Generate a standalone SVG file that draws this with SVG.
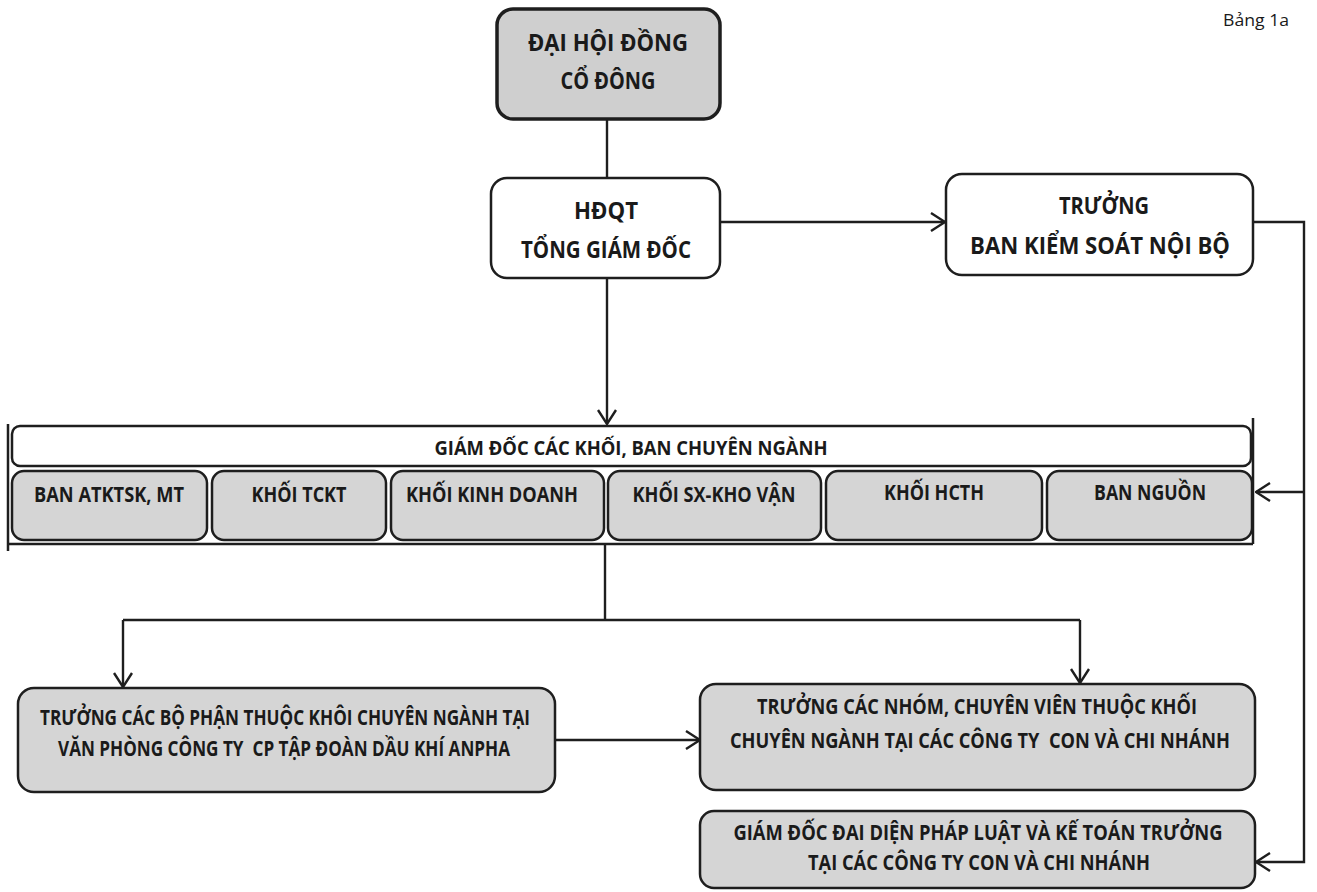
<svg xmlns="http://www.w3.org/2000/svg" width="1317" height="892" viewBox="0 0 1317 892">
<style>
.t{font-family:"Open Sans","Liberation Sans",Arial,sans-serif;font-weight:bold;fill:#1a1a1a;text-anchor:middle}
.g{fill:#d5d5d5;stroke:#1e1e1e;stroke-width:2.5}
.w{fill:#ffffff;stroke:#1e1e1e;stroke-width:2.5}
.c{fill:none;stroke:#1e1e1e;stroke-width:2.4}
</style>
<defs>
<marker id="arr" viewBox="0 0 16 20" refX="15" refY="10" markerWidth="16" markerHeight="20" orient="auto" markerUnits="userSpaceOnUse">
<path d="M1,1 L15,10 L1,19" fill="none" stroke="#1e1e1e" stroke-width="2.4"/>
</marker>
</defs>
<rect width="1317" height="892" fill="#ffffff"/>
<text x="1256" y="26" style="font-family:'Open Sans','Liberation Sans',sans-serif;font-size:16px;fill:#1a1a1a;text-anchor:middle" textLength="66" lengthAdjust="spacingAndGlyphs">Bảng 1a</text>

<g id="connectors">
<path class="c" d="M607,120 L607,178"/>
<path class="c" d="M720,222 L945,222" marker-end="url(#arr)"/>
<path class="c" d="M607,278 L607,424" marker-end="url(#arr)"/>
<path class="c" d="M1253,222 L1304,222 L1304,862 L1256,862" marker-end="url(#arr)"/>
<path class="c" d="M1304,492 L1256,492" marker-end="url(#arr)"/>
<path class="c" d="M605,544 L605,620"/>
<path class="c" d="M123,620 L1080,620"/>
<path class="c" d="M123,620 L123,687" marker-end="url(#arr)"/>
<path class="c" d="M1080,620 L1080,683" marker-end="url(#arr)"/>
<path class="c" d="M555,740 L700,740" marker-end="url(#arr)"/>
</g>

<g id="dhdcd">
<rect class="g" x="497" y="9" width="223" height="110" rx="16" style="stroke-width:3.5;fill:#cfcfcf"/>
<text class="t" x="608" y="51" font-size="24" textLength="160" lengthAdjust="spacingAndGlyphs">ĐẠI HỘI ĐỒNG</text>
<text class="t" x="608" y="89" font-size="24" textLength="95" lengthAdjust="spacingAndGlyphs">CỔ ĐÔNG</text>
</g>

<g id="hdqt">
<rect class="w" x="491" y="178" width="229" height="100" rx="16"/>
<text class="t" x="606" y="219" font-size="23" textLength="64" lengthAdjust="spacingAndGlyphs">HĐQT</text>
<text class="t" x="606" y="258" font-size="23" textLength="170" lengthAdjust="spacingAndGlyphs">TỔNG GIÁM ĐỐC</text>
</g>

<g id="bks">
<rect class="w" x="946" y="174" width="307" height="101" rx="16"/>
<text class="t" x="1104" y="214" font-size="23" textLength="90" lengthAdjust="spacingAndGlyphs">TRƯỞNG</text>
<text class="t" x="1100" y="254" font-size="23" textLength="260" lengthAdjust="spacingAndGlyphs">BAN KIỂM SOÁT NỘI BỘ</text>
</g>

<g id="band">
<path class="c" d="M8,424 L8,551 M1253,418 L1253,544 M8,544 L1253,544" style="stroke-width:2.5"/>
<rect class="w" x="12" y="426" width="1239" height="40" rx="8"/>
<text class="t" x="631" y="455" font-size="20" textLength="393" lengthAdjust="spacingAndGlyphs">GIÁM ĐỐC CÁC KHỐI, BAN CHUYÊN NGÀNH</text>
</g>

<g id="ban-atktsk">
<rect class="g" x="12" y="471" width="195" height="69" rx="12"/>
<text class="t" x="109" y="502" font-size="22" textLength="150" lengthAdjust="spacingAndGlyphs">BAN ATKTSK, MT</text>
</g>
<g id="khoi-tckt">
<rect class="g" x="212" y="471" width="174" height="69" rx="12"/>
<text class="t" x="299" y="502" font-size="22" textLength="95" lengthAdjust="spacingAndGlyphs">KHỐI TCKT</text>
</g>
<g id="khoi-kinh-doanh">
<rect class="g" x="391" y="471" width="213" height="69" rx="12"/>
<text class="t" x="492" y="502" font-size="22" textLength="172" lengthAdjust="spacingAndGlyphs">KHỐI KINH DOANH</text>
</g>
<g id="khoi-sx">
<rect class="g" x="608" y="471" width="213" height="69" rx="12"/>
<text class="t" x="714" y="502" font-size="22" textLength="163" lengthAdjust="spacingAndGlyphs">KHỐI SX-KHO VẬN</text>
</g>
<g id="khoi-hcth">
<rect class="g" x="826" y="471" width="216" height="69" rx="12"/>
<text class="t" x="934" y="500" font-size="22" textLength="100" lengthAdjust="spacingAndGlyphs">KHỐI HCTH</text>
</g>
<g id="ban-nguon">
<rect class="g" x="1047" y="471" width="205" height="69" rx="12"/>
<text class="t" x="1150" y="500" font-size="22" textLength="112" lengthAdjust="spacingAndGlyphs">BAN NGUỒN</text>
</g>

<g id="truong-bo-phan">
<rect class="g" x="18" y="688" width="537" height="104" rx="16"/>
<text class="t" x="285" y="725" font-size="21" textLength="490" lengthAdjust="spacingAndGlyphs">TRƯỞNG CÁC BỘ PHẬN THUỘC KHÔI CHUYÊN NGÀNH TẠI</text>
<text class="t" x="284" y="756" font-size="21" textLength="452" lengthAdjust="spacingAndGlyphs">VĂN PHÒNG CÔNG TY&#160; CP TẬP ĐOÀN DẦU KHÍ ANPHA</text>
</g>

<g id="truong-nhom">
<rect class="g" x="700" y="684" width="555" height="106" rx="16"/>
<text class="t" x="977" y="714" font-size="21" textLength="440" lengthAdjust="spacingAndGlyphs">TRƯỞNG CÁC NHÓM, CHUYÊN VIÊN THUỘC KHỐI</text>
<text class="t" x="980" y="748" font-size="21" textLength="500" lengthAdjust="spacingAndGlyphs">CHUYÊN NGÀNH TẠI CÁC CÔNG TY&#160; CON VÀ CHI NHÁNH</text>
</g>

<g id="giam-doc-dai-dien">
<rect class="g" x="700" y="811" width="555" height="77" rx="14"/>
<text class="t" x="978" y="840" font-size="21" textLength="489" lengthAdjust="spacingAndGlyphs">GIÁM ĐỐC ĐAI DIỆN PHÁP LUẬT VÀ KẾ TOÁN TRƯỞNG</text>
<text class="t" x="979" y="870" font-size="21" textLength="342" lengthAdjust="spacingAndGlyphs">TẠI CÁC CÔNG TY CON VÀ CHI NHÁNH</text>
</g>
</svg>
